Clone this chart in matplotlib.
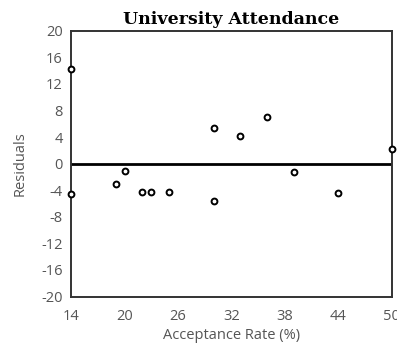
import matplotlib
matplotlib.use('Agg')
import matplotlib.pyplot as plt

# ---------------------------
# Data
# ---------------------------
acceptance = [14, 14, 19, 20, 22, 23, 25, 30, 30, 33, 36, 39, 44, 50]
residuals = [14.2, -4.6, -3.0, -1.1, -4.2, -4.2, -4.2, 5.4, -5.6, 4.2, 7.0, -1.2, -4.4, 2.2]

x_ticks = [14, 20, 26, 32, 38, 44, 50]
y_ticks = [20, 16, 12, 8, 4, 0, -4, -8, -12, -16, -20]

# ---------------------------
# Figure
# ---------------------------
fig = plt.figure(figsize=(3.97, 3.53), dpi=100)
ax = fig.add_axes([0.179, 0.16, 0.808, 0.753])

ax.axhline(0, color='black', lw=2.0, zorder=2)
ax.plot(acceptance, residuals, 'o', ms=4.2, mfc='white', mec='black',
        mew=1.4, clip_on=False, zorder=3)

ax.set_xlim(14, 50)
ax.set_ylim(-20, 20)
ax.set_xticks(x_ticks)
ax.set_yticks(y_ticks)

tick_font = dict(family='Open Sans', size=10.5, color='#555555')
ax.set_xticklabels([str(t) for t in x_ticks], fontdict=tick_font)
ax.set_yticklabels([str(t) for t in y_ticks], fontdict=tick_font)
ax.tick_params(axis='x', length=0, pad=9)
ax.tick_params(axis='y', length=0, pad=6)

for s in ax.spines.values():
    s.set_color('#333333')
    s.set_linewidth(1.4)

ax.set_xlabel('Acceptance Rate (%)', family='Open Sans', size=10.5,
              color='#555555', labelpad=3)
ax.set_ylabel('Residuals', family='Open Sans', size=10.5,
              color='#555555', labelpad=10)
ax.set_title('University Attendance', family='DejaVu Serif', weight='heavy',
             size=12.5, pad=5)

fig.savefig('out.png', dpi=100)
